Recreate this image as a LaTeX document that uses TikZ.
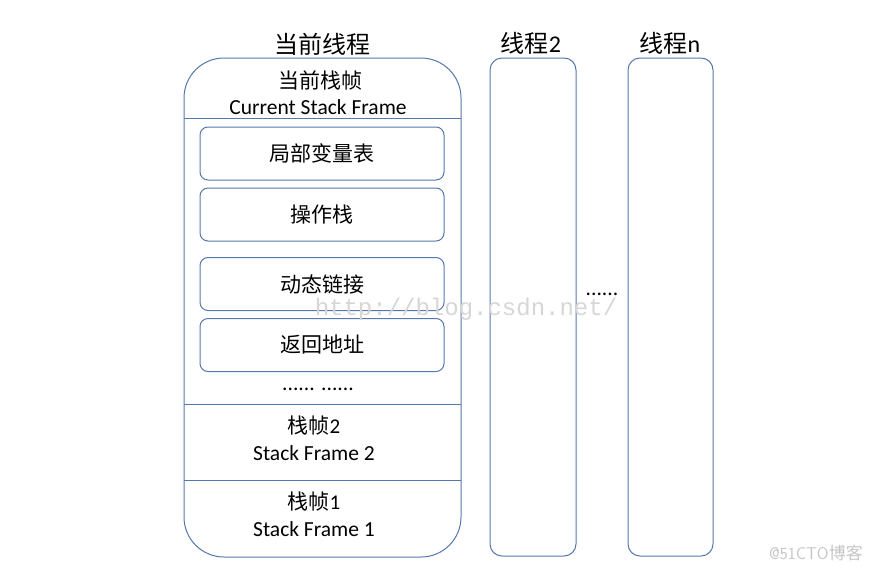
\documentclass[tikz,border=0pt]{standalone}
\usepackage{fontspec}
\setmainfont{Carlito}
\newfontfamily\cjk{Noto Sans CJK SC}
\newfontfamily\wmono{Liberation Mono}
\usepackage{tikz}

\definecolor{framecol}{RGB}{84,120,172}
\definecolor{markgray}{RGB}{214,214,214}

\tikzset{
  framebox/.style={draw=framecol, line width=1pt},
  slotbox/.style={draw=framecol, line width=1pt, rounded corners=8pt,
    minimum width=244pt, minimum height=53pt, inner sep=0pt},
  cntext/.style={font=\cjk\fontsize{21}{24}\selectfont, inner sep=0pt},
  entext/.style={font=\fontsize{21.5}{24}\selectfont, inner sep=0pt},
  titletext/.style={font=\cjk\fontsize{24}{28}\selectfont, inner sep=0pt}
}

\begin{document}
\begin{tikzpicture}[x=1pt,y=-1pt]
\useasboundingbox (0,0) rectangle (877,573);

% Current thread
\draw[framebox, rounded corners=40pt] (184,58) rectangle (461,557);
\draw[framebox] (184,118) -- (461,118);
\draw[framebox] (184,404) -- (461,404);
\draw[framebox] (184,480) -- (461,480);
\node[titletext] (curtitle) at (322,44) {当前线程};

% Current stack frame
\node[cntext] (curframe) at (320,80) {当前栈帧};
\node[entext] (curframeen) at (318,107) {Current Stack Frame};
\node[slotbox, cntext] (locals) at (322,153.5) {局部变量表};
\node[slotbox, cntext] (operand) at (322,214.5) {操作栈};
\node[slotbox, cntext] (dynlink) at (322,284) {动态链接};
\node[slotbox, cntext] (retaddr) at (322,345) {返回地址};
\node[entext] (moredots) at (318,389) {...... ......};

% Older frames
\node[cntext] (frame2) at (314,426) {栈帧\fontspec{Carlito}2};
\node[entext] (frame2en) at (314,453) {Stack Frame 2};
\node[cntext] (frame1) at (314,502) {栈帧\fontspec{Carlito}1};
\node[entext] (frame1en) at (314,529) {Stack Frame 1};

% Other threads
\draw[framebox, rounded corners=12pt] (490,58) rectangle (576,556);
\draw[framebox, rounded corners=12pt] (628,58) rectangle (713,556);
\node[titletext] (thread2) at (531,43) {线程\fontspec{Carlito}2};
\node[titletext] (threadn) at (670,43) {线程\fontspec{Carlito}n};
\node[entext] (between) at (602,294) {......};

% Watermarks
\node[font=\wmono\fontsize{24}{26}\selectfont, text=markgray, inner sep=0pt] (mark1) at (466,309) {http://blog.csdn.net/};
\node[font=\fontsize{17}{19}\selectfont\sffamily, text=markgray!92!black, inner sep=0pt] (mark2) at (816,553) {@51CTO{\cjk 博客}};

\end{tikzpicture}
\end{document}
